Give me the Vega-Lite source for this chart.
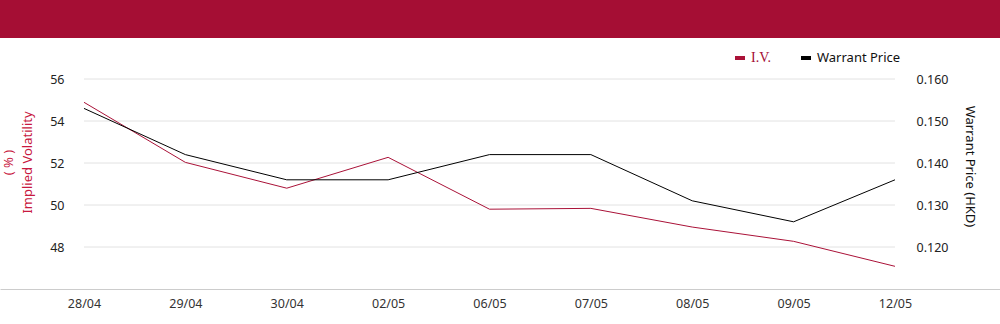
{
  "$schema": "https://vega.github.io/schema/vega-lite/v6.json",
  "padding": 0,
  "background": "white",
  "spacing": 0,
  "config": {
    "view": {"stroke": null},
    "font": "Noto Sans",
    "axis": {"labelFont": "Noto Sans", "titleFont": "Noto Sans"},
    "legend": {"labelFont": "Noto Sans"}
  },
  "data": {
    "values": [
      {"date": "28/04", "iv": 54.89, "price": 0.153},
      {"date": "29/04", "iv": 52.03, "price": 0.142},
      {"date": "30/04", "iv": 50.80, "price": 0.136},
      {"date": "02/05", "iv": 52.27, "price": 0.136},
      {"date": "06/05", "iv": 49.80, "price": 0.142},
      {"date": "07/05", "iv": 49.84, "price": 0.142},
      {"date": "08/05", "iv": 48.95, "price": 0.131},
      {"date": "09/05", "iv": 48.27, "price": 0.126},
      {"date": "12/05", "iv": 47.08, "price": 0.136}
    ]
  },
  "vconcat": [
    {
      "width": 1000,
      "height": 38,
      "view": {"fill": "#A50E34", "stroke": null},
      "mark": {"type": "rect", "opacity": 0},
      "encoding": {}
    },
    {
      "width": 1000,
      "height": 251,
      "encoding": {
        "x": {
          "field": "date",
          "type": "ordinal",
          "scale": {
            "type": "point",
            "domain": ["28/04", "29/04", "30/04", "02/05", "06/05", "07/05", "08/05", "09/05", "12/05"],
            "padding": 0.9322,
            "align": 0.4444
          },
          "axis": {
            "title": null,
            "labelAngle": 0,
            "ticks": false,
            "grid": false,
            "domainColor": "#cccccc",
            "domainWidth": 1,
            "labelColor": "#333333",
            "labelFontSize": 12.5,
            "labelPadding": 8
          }
        }
      },
      "layer": [
        {
          "layer": [
            {
              "data": {"values": [{"iv": 48}, {"iv": 50}, {"iv": 52}, {"iv": 54}, {"iv": 56}]},
              "mark": {"type": "rule", "color": "#e2e2e2", "strokeWidth": 1},
              "encoding": {
                "x": {"datum": "28/04", "type": "ordinal"},
                "x2": {"datum": "12/05"},
                "y": {"field": "iv", "type": "quantitative", "scale": {"domain": [46, 56], "range": [251, 41], "nice": false, "zero": false}}
              }
            },
            {
              "mark": {"type": "line", "strokeWidth": 1},
              "encoding": {
                "y": {
                  "field": "iv",
                  "type": "quantitative",
                  "scale": {"domain": [46, 56], "range": [251, 41], "nice": false, "zero": false},
                  "axis": {
                    "orient": "left",
                    "offset": -84,
                    "values": [48, 50, 52, 54, 56],
                    "grid": false,
                    "ticks": false,
                    "domain": false,
                    "labelPadding": 20,
                    "labelFontSize": 12.5,
                    "labelColor": "#222222",
                    "title": ["( % )", "Implied Volatility"],
                    "titleColor": "#C8193F",
                    "titleFontSize": 13,
                    "titleFontWeight": "normal",
                    "titleLineHeight": 19,
                    "titlePadding": 15,
                    "titleY": 124
                  }
                },
                "color": {
                  "datum": "I.V.",
                  "type": "nominal",
                  "scale": {"domain": ["I.V.", "Warrant Price"], "range": ["#AA1238", "#000000"]},
                  "legend": {
                    "orient": "none",
                    "legendX": 733,
                    "legendY": 51,
                    "direction": "horizontal",
                    "title": null,
                    "padding": 0,
                    "symbolType": "stroke",
                    "symbolSize": 100,
                    "symbolStrokeWidth": 4,
                    "labelFontSize": 13,
                    "labelOffset": 4,
                    "columnPadding": 22,
                    "encode": {
                      "labels": {
                        "update": {
                          "fill": {"signal": "datum.label === 'I.V.' ? '#A50E34' : '#111111'"},
                          "font": {"signal": "datum.label === 'I.V.' ? 'Liberation Serif' : 'Noto Sans'"},
                          "fontSize": {"signal": "datum.label === 'I.V.' ? 14 : 13"}
                        }
                      }
                    }
                  }
                }
              }
            }
          ]
        },
        {
          "mark": {"type": "line", "strokeWidth": 1},
          "encoding": {
            "y": {
              "field": "price",
              "type": "quantitative",
              "scale": {"domain": [0.11, 0.16], "range": [251, 41], "nice": false, "zero": false},
              "axis": {
                "orient": "right",
                "offset": -105,
                "values": [0.12, 0.13, 0.14, 0.15, 0.16],
                "format": ".3f",
                "grid": false,
                "ticks": false,
                "domain": false,
                "labelPadding": 21,
                "labelFontSize": 12.5,
                "labelColor": "#222222",
                "title": "Warrant Price (HKD)",
                "titleColor": "#111111",
                "titleFontSize": 13,
                "titleFontWeight": "normal",
                "titlePadding": 15,
                "titleY": 128
              }
            },
            "color": {"datum": "Warrant Price", "type": "nominal"}
          }
        }
      ],
      "resolve": {"scale": {"y": "independent"}, "axis": {"y": "independent"}}
    }
  ]
}
